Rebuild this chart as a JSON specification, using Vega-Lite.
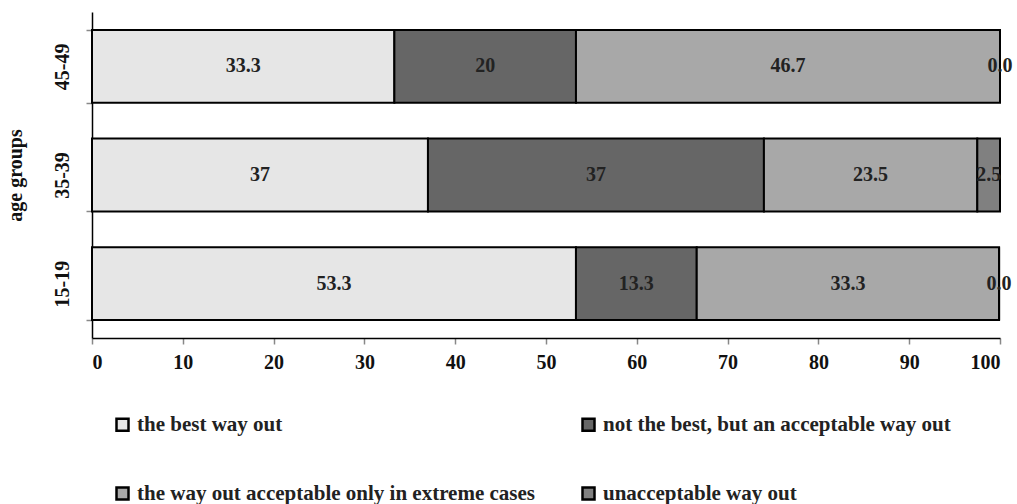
{
  "$schema": "https://vega.github.io/schema/vega-lite/v6.json",
  "width": 908,
  "height": 326,
  "autosize": {"type": "none"},
  "padding": {"left": 92, "top": 12, "right": 17, "bottom": 166},
  "background": "white",
  "data": {"values": [
    {"age": "15-19", "cat": "the best way out", "k": 1, "v": 53.3, "lbl": "53.3"},
    {"age": "15-19", "cat": "not the best, but an acceptable way out", "k": 2, "v": 13.3, "lbl": "13.3"},
    {"age": "15-19", "cat": "the way out acceptable only in extreme cases", "k": 3, "v": 33.3, "lbl": "33.3"},
    {"age": "15-19", "cat": "unacceptable way out", "k": 4, "v": 0.0, "lbl": "0.0"},
    {"age": "35-39", "cat": "the best way out", "k": 1, "v": 37, "lbl": "37"},
    {"age": "35-39", "cat": "not the best, but an acceptable way out", "k": 2, "v": 37, "lbl": "37"},
    {"age": "35-39", "cat": "the way out acceptable only in extreme cases", "k": 3, "v": 23.5, "lbl": "23.5"},
    {"age": "35-39", "cat": "unacceptable way out", "k": 4, "v": 2.5, "lbl": "2.5"},
    {"age": "45-49", "cat": "the best way out", "k": 1, "v": 33.3, "lbl": "33.3"},
    {"age": "45-49", "cat": "not the best, but an acceptable way out", "k": 2, "v": 20, "lbl": "20"},
    {"age": "45-49", "cat": "the way out acceptable only in extreme cases", "k": 3, "v": 46.7, "lbl": "46.7"},
    {"age": "45-49", "cat": "unacceptable way out", "k": 4, "v": 0.0, "lbl": "0.0"}
  ]},
  "config": {
    "font": "Liberation Serif",
    "view": {"stroke": null},
    "axis": {
      "labelFont": "Liberation Serif", "labelFontWeight": "bold", "labelFontSize": 20, "labelColor": "#111",
      "titleFont": "Liberation Serif", "titleFontWeight": "bold", "titleFontSize": 20, "titleColor": "#111",
      "domainColor": "#000", "domainWidth": 1.5, "tickColor": "#888", "tickWidth": 1.5, "grid": false
    }
  },
  "encoding": {
    "y": {
      "field": "age", "type": "nominal",
      "sort": ["45-49", "35-39", "15-19"],
      "scale": {"paddingInner": 0.33, "paddingOuter": 0.165},
      "axis": {
        "title": "age groups", "titlePadding": 27,
        "labelAngle": -90, "labelAlign": "center", "labelBaseline": "bottom",
        "tickBand": "extent", "labelPadding": 14, "tickSize": 6
      }
    },
    "x": {
      "field": "v", "type": "quantitative", "stack": "zero",
      "scale": {"domain": [0, 100], "nice": false},
      "axis": {"title": null, "values": [0,10,20,30,40,50,60,70,80,90,100], "tickSize": 6, "labelPadding": 8}
    }
  },
  "layer": [
    {
      "mark": {"type": "bar", "stroke": "#000", "strokeWidth": 2},
      "encoding": {
        "order": {"field": "k"},
        "color": {
          "field": "cat", "type": "nominal",
          "sort": ["the best way out", "not the best, but an acceptable way out", "the way out acceptable only in extreme cases", "unacceptable way out"],
          "scale": {"range": ["#e6e6e6", "#666666", "#a8a8a8", "#808080"]},
          "legend": {
            "title": null, "orient": "none", "legendX": 20, "legendY": 402, "direction": "horizontal",
            "columns": 2, "columnPadding": 42, "rowPadding": 46,
            "symbolType": "square", "symbolSize": 144, "symbolStrokeColor": "#000", "symbolStrokeWidth": 2.5,
            "labelFont": "Liberation Serif", "labelFontWeight": "bold", "labelFontSize": 21, "labelColor": "#222",
            "labelLimit": 600
          }
        }
      }
    },
    {
      "mark": {"type": "text", "font": "Liberation Serif", "fontWeight": "bold", "fontSize": 20, "color": "#222"},
      "encoding": {
        "x": {"field": "v", "type": "quantitative", "stack": "zero", "bandPosition": 0.5},
        "order": {"field": "k"},
        "text": {"field": "lbl"}
      }
    }
  ]
}
